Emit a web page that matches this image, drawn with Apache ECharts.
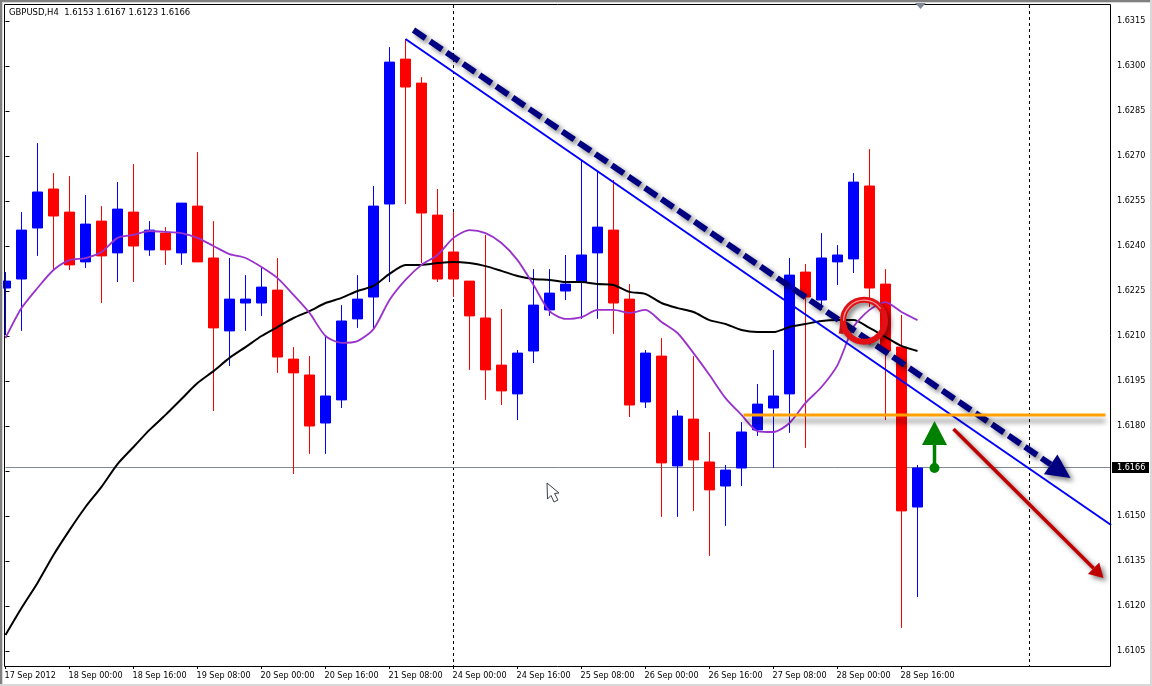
<!DOCTYPE html>
<html>
<head>
<meta charset="utf-8">
<style>html,body{margin:0;padding:0;background:#fff}#c{width:1152px;height:686px}</style>
<script src="https://cdn.jsdelivr.net/npm/echarts@6/dist/echarts.min.js"></script>
</head>
<body>
<div id="c"></div>
<script>
const heading = 'GBPUSD,H4  1.6153 1.6167 1.6123 1.6166';
const categories = [
'17 Sep 2012','17 Sep 12:00','17 Sep 16:00','17 Sep 20:00',
'18 Sep 00:00','18 Sep 04:00','18 Sep 08:00','18 Sep 12:00','18 Sep 16:00','18 Sep 20:00',
'19 Sep 00:00','19 Sep 04:00','19 Sep 08:00','19 Sep 12:00','19 Sep 16:00','19 Sep 20:00',
'20 Sep 00:00','20 Sep 04:00','20 Sep 08:00','20 Sep 12:00','20 Sep 16:00','20 Sep 20:00',
'21 Sep 00:00','21 Sep 04:00','21 Sep 08:00','21 Sep 12:00','21 Sep 16:00','21 Sep 20:00',
'24 Sep 00:00','24 Sep 04:00','24 Sep 08:00','24 Sep 12:00','24 Sep 16:00','24 Sep 20:00',
'25 Sep 00:00','25 Sep 04:00','25 Sep 08:00','25 Sep 12:00','25 Sep 16:00','25 Sep 20:00',
'26 Sep 00:00','26 Sep 04:00','26 Sep 08:00','26 Sep 12:00','26 Sep 16:00','26 Sep 20:00',
'27 Sep 00:00','27 Sep 04:00','27 Sep 08:00','27 Sep 12:00','27 Sep 16:00','27 Sep 20:00',
'28 Sep 00:00','28 Sep 04:00','28 Sep 08:00','28 Sep 12:00','28 Sep 16:00','28 Sep 20:00',
'1 Oct 00:00','1 Oct 04:00','1 Oct 08:00','1 Oct 12:00','1 Oct 16:00','1 Oct 20:00',
'2 Oct 00:00','2 Oct 04:00','2 Oct 08:00','2 Oct 12:00','2 Oct 16:00','2 Oct 20:00'];
const timeLabels = ['17 Sep 2012','18 Sep 00:00','18 Sep 16:00','19 Sep 08:00','20 Sep 00:00','20 Sep 16:00','21 Sep 08:00','24 Sep 00:00','24 Sep 16:00','25 Sep 08:00','26 Sep 00:00','26 Sep 16:00','27 Sep 08:00','28 Sep 00:00','28 Sep 16:00'];
const priceTicks = [1.6105,1.612,1.6135,1.615,1.6165,1.618,1.6195,1.621,1.6225,1.624,1.6255,1.627,1.6285,1.63,1.6315];

const opens = [1.6226,1.6229,1.6246,1.6259,1.62513,1.62347,1.62483,1.62377,1.62513,1.62387,1.62443,1.62377,1.62533,1.6236,1.62117,1.6221,1.6221,1.62253,1.62023,1.6197,1.6181,1.61887,1.62157,1.6223,1.6254,1.63023,1.62943,1.62503,1.6238,1.62283,1.6216,1.62003,1.61907,1.6205,1.62187,1.6225,1.6228,1.62377,1.62453,1.62223,1.6188,1.62033,1.61667,1.61823,1.6168,1.616,1.6166,1.61787,1.6186,1.61907,1.62313,1.6222,1.62347,1.62357,1.626,1.62273,1.62063,1.6153];
const closes = [1.62283,1.62453,1.6258,1.625,1.62337,1.62473,1.62367,1.62523,1.624,1.62453,1.62387,1.62543,1.62347,1.62127,1.62223,1.62223,1.62263,1.6203,1.61977,1.618,1.619,1.6215,1.62223,1.62533,1.63013,1.6293,1.6251,1.6229,1.6229,1.62167,1.61987,1.61917,1.62043,1.62203,1.62243,1.62273,1.6237,1.62463,1.6221,1.6187,1.62043,1.61677,1.61833,1.61687,1.61587,1.61653,1.6178,1.61873,1.619,1.62303,1.6223,1.6236,1.6237,1.62613,1.6226,1.6205,1.61517,1.6166];
const lows = [1.62103,1.62117,1.62367,1.6232,1.6232,1.62327,1.6221,1.6228,1.6228,1.62367,1.62337,1.62337,1.62347,1.6185,1.62,1.62117,1.62167,1.61977,1.6164,1.61707,1.61707,1.6186,1.62127,1.6212,1.6228,1.6254,1.62343,1.6228,1.6223,1.61987,1.61887,1.6187,1.6182,1.6201,1.62167,1.6222,1.62157,1.62157,1.62107,1.6183,1.6186,1.61497,1.61497,1.61517,1.61367,1.61467,1.616,1.61767,1.6166,1.61777,1.61727,1.62187,1.6227,1.6231,1.62197,1.6182,1.61127,1.6123];
const highs = [1.62313,1.62513,1.62743,1.62643,1.62633,1.6257,1.62533,1.62613,1.62673,1.62483,1.62463,1.62543,1.62713,1.62483,1.6236,1.62303,1.62327,1.6236,1.62063,1.62033,1.62097,1.62203,1.62303,1.626,1.63063,1.6309,1.62963,1.6259,1.62513,1.62283,1.62437,1.6219,1.62053,1.62323,1.62323,1.6237,1.62687,1.62647,1.6262,1.62273,1.62053,1.62093,1.61853,1.62033,1.6178,1.6167,1.61813,1.6194,1.62053,1.6236,1.6234,1.62443,1.62403,1.62643,1.62723,1.62323,1.6217,1.6167];
const slowAverage = [1.61103,1.61193,1.61277,1.6137,1.61453,1.6153,1.61597,1.61673,1.6173,1.61787,1.61837,1.6189,1.61943,1.61983,1.62027,1.62063,1.621,1.6213,1.6216,1.62183,1.6221,1.62227,1.6225,1.62267,1.62307,1.62337,1.62337,1.62343,1.62347,1.62343,1.62333,1.62317,1.623,1.6229,1.62287,1.6228,1.6228,1.62273,1.6227,1.62247,1.6224,1.6221,1.62193,1.6218,1.62153,1.6214,1.6212,1.62113,1.62113,1.6213,1.6214,1.6215,1.62153,1.62153,1.62127,1.62097,1.62067,1.6205];
const fastAverage = [1.62093,1.62193,1.6226,1.6232,1.62353,1.6236,1.6238,1.62427,1.62437,1.6245,1.62447,1.62443,1.62427,1.624,1.62373,1.6236,1.6233,1.62293,1.62237,1.62177,1.621,1.62077,1.62083,1.62123,1.6222,1.62287,1.62337,1.6237,1.62427,1.62453,1.62443,1.6241,1.62353,1.6227,1.62183,1.62157,1.62163,1.62187,1.62187,1.62177,1.62187,1.62147,1.6211,1.62043,1.6197,1.61893,1.61837,1.61783,1.6178,1.6181,1.61877,1.6193,1.62003,1.6213,1.62187,1.62213,1.6218,1.62153];

const lastPrice = 1.6166;
const separators = ['24 Sep 00:00','2 Oct 00:00'];
// annotations in [bar index, price, bar index, price]
const trendLine = [25, 1.6309, 69.1, 1.6147];
const dashedArrow = [25.5, 1.6312, 66.5625, 1.61627];
const orangeLevel = [46.125, 1.61837, 68.75, 1.61837];
const redArrow = [59.25, 1.6179, 68.625, 1.61293];
const greenArrow = [58.0625, 1.6166, 58.0625, 1.61817];
const circleMark = [53.66, 1.62151];

const FONT = '"DejaVu Sans Condensed", "Liberation Sans", Arial, sans-serif';
const FONT_SIZE = 9;
const shadow = {shadowBlur: 5, shadowOffsetX: 3, shadowOffsetY: 3, shadowColor: 'rgba(0,0,0,0.5)'};

function segment(api) {
  const a = api.coord([api.value(0), api.value(1)]);
  const b = api.coord([api.value(2), api.value(3)]);
  return [a, b];
}
function lineItem(width, color, extra) {
  return function (p, api) {
    const [a, b] = segment(api);
    return {type: 'line', shape: {x1: a[0], y1: a[1], x2: b[0], y2: b[1]},
      style: Object.assign({stroke: color, lineWidth: width, fill: null}, extra || {})};
  };
}
function arrowItem(width, color, headLen, headHalf, dash) {
  return function (p, api) {
    const [a, b] = segment(api);
    const dx = b[0] - a[0], dy = b[1] - a[1], len = Math.hypot(dx, dy);
    const ux = dx / len, uy = dy / len;
    const bx = b[0] - ux * headLen, by = b[1] - uy * headLen;
    return {type: 'group', children: [
      {type: 'line', shape: {x1: a[0], y1: a[1], x2: bx, y2: by},
        style: Object.assign({stroke: color, lineWidth: width, fill: null, lineDash: dash || null}, shadow)},
      {type: 'polygon', shape: {points: [[b[0], b[1]], [bx - uy * headHalf, by + ux * headHalf], [bx + uy * headHalf, by - ux * headHalf]]},
        style: Object.assign({fill: color}, shadow)}
    ]};
  };
}
function anno(name, data, renderItem, z) {
  return {name, type: 'custom', xAxisIndex: 1, yAxisIndex: 0, data: [data], renderItem, z, silent: true, clip: false, animation: false};
}

const chart = echarts.init(document.getElementById('c'), null, {renderer: 'canvas'});
chart.setOption({
  animation: false,
  backgroundColor: '#fff',
  title: {text: heading, left: 9, top: 8, padding: 0, textStyle: {fontFamily: FONT, fontSize: 9.4, fontWeight: 'normal', color: '#000'}},
  grid: {left: 5.5, top: 4, width: 1104, height: 662, containLabel: false},
  xAxis: [{
    type: 'category', data: categories, boundaryGap: false,
    axisLine: {show: false},
    axisTick: {show: true, length: 3, lineStyle: {color: '#000'}, interval: (i, v) => timeLabels.includes(v)},
    axisLabel: {show: true, interval: (i, v) => timeLabels.includes(v), align: 'left', margin: 5, padding: [0, 0, 0, -1], fontFamily: FONT, fontSize: FONT_SIZE, color: '#000', hideOverlap: false},
    splitLine: {show: false}
  }, {type: 'value', min: 0, max: 69, show: false}],
  yAxis: [{
    type: 'value', position: 'right', offset: 1.5, min: 1.61, max: 1.632067,
    axisLine: {show: false},
    axisTick: {show: true, length: 4, lineStyle: {color: '#000'}, customValues: priceTicks},
    axisLabel: {customValues: priceTicks, margin: 6, fontFamily: FONT, fontSize: FONT_SIZE, color: '#000', formatter: v => v.toFixed(4)},
    splitLine: {show: false}
  }],
  series: [
    {type: 'custom', name: 'separators', xAxisIndex: 0, yAxisIndex: 0, z: 1, silent: true, animation: false,
      data: separators.map(s => [categories.indexOf(s)]),
      renderItem: (p, api) => {
        const x = Math.floor(api.coord([api.value(0), 1.62])[0]) + 0.5;
        return {type: 'line', shape: {x1: x, y1: 5, x2: x, y2: 666}, style: {stroke: '#000', lineWidth: 1, lineDash: [3, 3]}};
      }},
    anno('last', [0, lastPrice, 69.1, lastPrice], (p, api) => {
      const [a, b] = segment(api);
      const y = Math.round(a[1]) - 0.5;
      return {type: 'line', shape: {x1: a[0], y1: y, x2: b[0], y2: y}, style: {stroke: '#808a96', lineWidth: 1}};
    }, 1),
    {type: 'candlestick', name: 'GBPUSD', xAxisIndex: 0, yAxisIndex: 0, z: 2, barWidth: 11, silent: true, animation: false,
      data: opens.map((o, i) => [o, closes[i], lows[i], highs[i]]),
      itemStyle: {color: '#0000ff', color0: '#ff0000', borderColor: '#0000ff', borderColor0: '#ff0000', borderWidth: 1}},
    {type: 'line', name: 'slow', xAxisIndex: 0, yAxisIndex: 0, z: 3, data: slowAverage, smooth: 0.25, showSymbol: false, silent: true, animation: false, lineStyle: {color: '#000', width: 2}},
    {type: 'line', name: 'fast', xAxisIndex: 0, yAxisIndex: 0, z: 3, data: fastAverage, smooth: 0.25, showSymbol: false, silent: true, animation: false, lineStyle: {color: '#9932cc', width: 1.8}},
    anno('trend', trendLine, lineItem(2, '#0000ff'), 4),
    anno('dashed', dashedArrow, arrowItem(6, '#000080', 24, 12, [14.5, 5.5]), 5),
    anno('level', orangeLevel, lineItem(3, '#ffa000', {shadowBlur: 5, shadowOffsetX: 0, shadowOffsetY: 6, shadowColor: 'rgba(0,0,0,0.45)'}), 5),
    anno('red', redArrow, arrowItem(3.5, '#c00000', 14, 8), 5),
    anno('green', greenArrow, (p, api) => {
      const [a, b] = segment(api);
      return {type: 'group', children: [
        {type: 'circle', shape: {cx: a[0], cy: a[1], r: 5}, style: {fill: '#008000'}},
        {type: 'line', shape: {x1: a[0], y1: a[1], x2: a[0], y2: b[1] + 24}, style: {stroke: '#008000', lineWidth: 3.5}},
        {type: 'polygon', shape: {points: [[b[0], b[1]], [b[0] - 12.5, b[1] + 24], [b[0] + 12.5, b[1] + 24]]}, style: {fill: '#008000'}}
      ]};
    }, 5),
    anno('circle', circleMark, (p, api) => {
      const c = api.coord([api.value(0), api.value(1)]);
      const r = 21;
      return {type: 'group', children: [
        {type: 'polyline', shape: {points: [[c[0] - 23, c[1] + 13], [c[0] - r, c[1] - 2]]}, style: Object.assign({stroke: '#cc1418', lineWidth: 4.5, fill: null}, shadow)},
        {type: 'circle', shape: {cx: c[0], cy: c[1], r}, style: Object.assign({stroke: '#e01015', lineWidth: 6, fill: null}, shadow)},
        {type: 'arc', shape: {cx: c[0], cy: c[1], r: r - 0.5, startAngle: Math.PI * 1.0, endAngle: Math.PI * 1.8, clockwise: true}, style: {stroke: '#ff9a9a', lineWidth: 1.2, fill: null}}
      ]};
    }, 6),
    anno('tag', [0, lastPrice], (p, api) => {
      const c = api.coord([api.value(0), api.value(1)]);
      return {type: 'group', children: [
        {type: 'rect', shape: {x: 1112, y: Math.round(c[1]) - 6, width: 37, height: 11}, style: {fill: '#000'}},
        {type: 'text', style: {x: 1117, y: c[1], text: lastPrice.toFixed(4), fill: '#fff', font: FONT_SIZE + 'px ' + FONT, textAlign: 'left', textVerticalAlign: 'middle'}}
      ]};
    }, 20)
  ],
  graphic: [
    {type: 'rect', silent: true, z: 30, shape: {x: 4.5, y: 4.5, width: 1106, height: 662}, style: {fill: null, stroke: '#000', lineWidth: 1}},
    {type: 'rect', silent: true, z: 30, shape: {x: 0, y: 0, width: 1152, height: 2}, style: {fill: '#808080'}},
    {type: 'rect', silent: true, z: 30, shape: {x: 0, y: 2, width: 1152, height: 1}, style: {fill: '#d8d8d8'}},
    {type: 'rect', silent: true, z: 30, shape: {x: 0, y: 0, width: 2, height: 686}, style: {fill: '#808080'}},
    {type: 'rect', silent: true, z: 30, shape: {x: 2, y: 2, width: 1, height: 684}, style: {fill: '#d8d8d8'}},
    {type: 'rect', silent: true, z: 30, shape: {x: 0, y: 684, width: 1152, height: 2}, style: {fill: '#d8d8d8'}},
    {type: 'rect', silent: true, z: 30, shape: {x: 1150, y: 0, width: 2, height: 686}, style: {fill: '#d8d8d8'}},
    {type: 'polygon', silent: true, z: 30, shape: {points: [[915, 3], [926, 3], [920.5, 9]]}, style: {fill: '#808a96'}},
    {type: 'polygon', silent: true, z: 30, shape: {points: [[547, 483], [547.5, 499], [551, 495.5], [554, 502], [558, 500], [554.5, 493.5], [559, 493]]}, style: {fill: '#fff', stroke: '#3a4048', lineWidth: 1}}
  ]
});
</script>
</body>
</html>
